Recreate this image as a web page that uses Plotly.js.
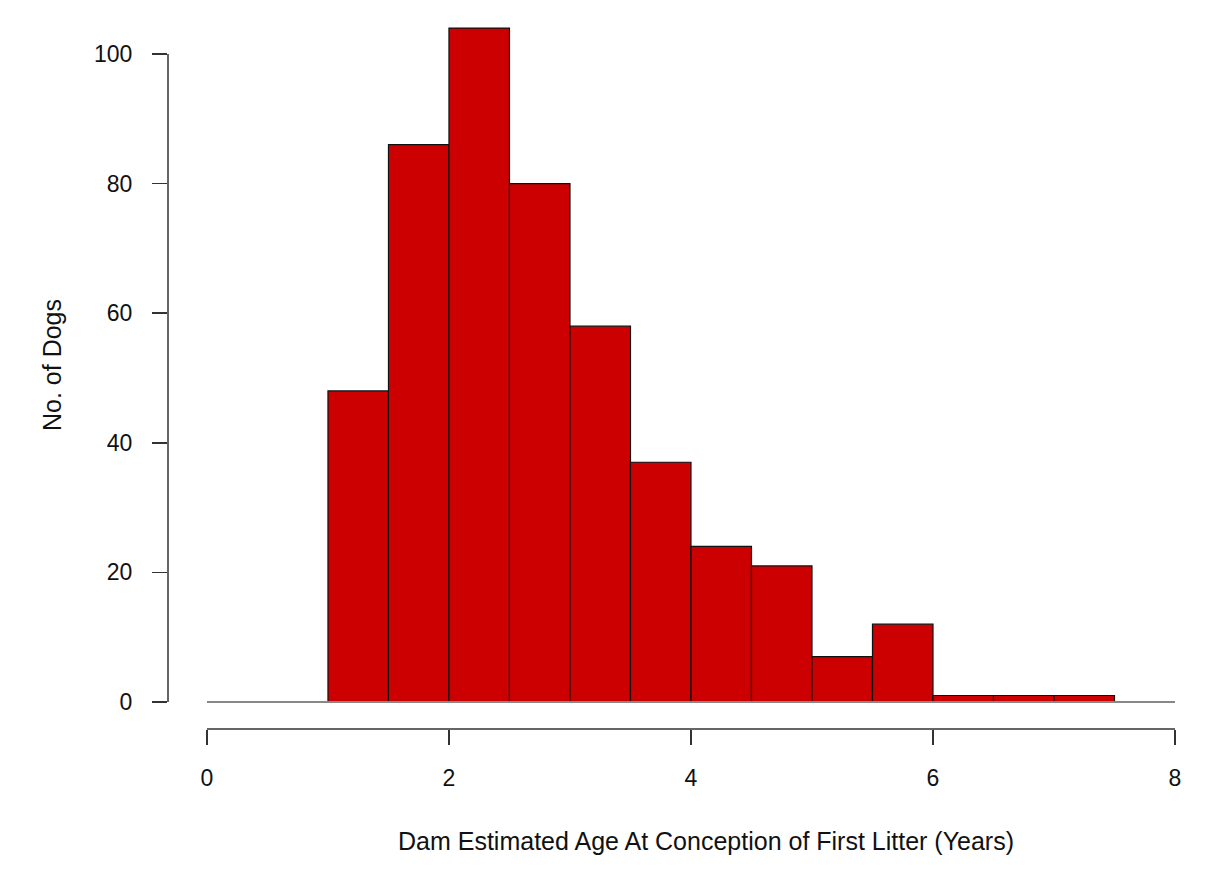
<!DOCTYPE html>
<html>
<head>
<meta charset="utf-8">
<script src="https://cdn.plot.ly/plotly-3.0.1.min.js"></script>
<style>
  html, body { margin: 0; padding: 0; background: #fff; }
  #chart { width: 1207px; height: 883px; }
</style>
</head>
<body>
<div id="chart"></div>
<script>
// Histogram bins (years) and counts of dams per bin
const binStarts = [0, 0.5, 1, 1.5, 2, 2.5, 3, 3.5, 4, 4.5, 5, 5.5, 6, 6.5, 7, 7.5];
const binWidth = 0.5;
const counts = [0, 0, 48, 86, 104, 80, 58, 37, 24, 21, 7, 12, 1, 1, 1, 0];

// Axis ticks
const xTicks = [0, 2, 4, 6, 8];
const yTicks = [0, 20, 40, 60, 80, 100];

const xTitle = 'Dam Estimated Age At Conception of First Litter (Years)';
const yTitle = 'No. of Dogs';

const binCenters = binStarts.map(s => s + binWidth / 2);
const binEdges = [binStarts[0], binStarts[binStarts.length - 1] + binWidth];

const axisColor = '#333';
const family = 'Liberation Sans, Arial, sans-serif';
const tickFont = { family: family, size: 23, color: '#111' };
const titleFont = { family: family, size: 25, color: '#111' };

const traces = [
  {
    // baseline for empty bins
    type: 'scatter',
    mode: 'lines',
    x: binEdges,
    y: [0, 0],
    line: { color: '#888', width: 2 },
    hoverinfo: 'skip',
    showlegend: false
  },
  {
    type: 'bar',
    x: binCenters,
    y: counts,
    width: binWidth,
    marker: { color: '#CC0000', line: { color: '#111', width: 1.2 } },
    showlegend: false
  }
];

const layout = {
  width: 1207,
  height: 883,
  margin: { l: 168, r: 17, t: 1, b: 154 },
  paper_bgcolor: '#fff',
  plot_bgcolor: '#fff',
  font: tickFont,
  bargap: 0,
  xaxis: {
    range: [-0.322, 8.124],
    tickvals: xTicks,
    ticktext: xTicks.map(String),
    ticks: 'outside',
    ticklen: 15,
    tickwidth: 1.5,
    tickcolor: axisColor,
    ticklabelstandoff: 13,
    tickfont: tickFont,
    showline: false,
    showgrid: false,
    zeroline: false
  },
  yaxis: {
    range: [-4.17, 108.18],
    tickvals: yTicks,
    ticktext: yTicks.map(String),
    ticks: 'outside',
    ticklen: 15,
    tickwidth: 1.5,
    tickcolor: axisColor,
    ticklabelstandoff: 15,
    tickfont: tickFont,
    showline: false,
    showgrid: false,
    zeroline: false,
    title: { text: yTitle, font: titleFont, standoff: 25 }
  },
  shapes: [
    {
      type: 'line', xref: 'paper', yref: 'y',
      x0: 0, x1: 0, y0: yTicks[0], y1: yTicks[yTicks.length - 1],
      line: { color: axisColor, width: 1.5 }
    },
    {
      type: 'line', xref: 'x', yref: 'paper',
      x0: xTicks[0], x1: xTicks[xTicks.length - 1], y0: 0, y1: 0,
      line: { color: axisColor, width: 1.5 }
    }
  ],
  annotations: [
    {
      text: xTitle,
      xref: 'paper', yref: 'paper',
      x: 0.5264, y: 0,
      xanchor: 'center', yanchor: 'middle',
      yshift: -112,
      showarrow: false,
      font: titleFont
    }
  ]
};

Plotly.newPlot('chart', traces, layout, { displayModeBar: false, staticPlot: true });
</script>
</body>
</html>
